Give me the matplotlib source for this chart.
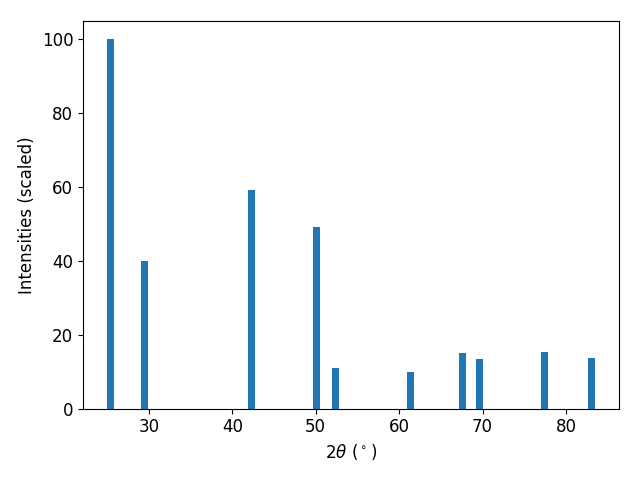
import matplotlib
matplotlib.use("Agg")
import matplotlib.pyplot as plt

two_theta = [25.45, 29.5, 42.3, 50.1, 52.4, 61.4, 67.6, 69.6, 77.4, 83.0]
intensity = [100.0, 39.9, 59.1, 49.3, 11.0, 9.9, 15.1, 13.3, 15.4, 13.8]

fig, ax = plt.subplots(figsize=(6.4, 4.8), dpi=100)
ax.bar(two_theta, intensity, width=0.85, color="#1f77b4")
ax.set_xlabel(r"$2\theta$ ($^\circ$)", fontsize=12)
ax.set_ylabel("Intensities (scaled)", fontsize=12)
ax.tick_params(labelsize=12)
fig.subplots_adjust(left=83/640, right=619/640, top=1-21/480, bottom=1-408.5/480)
fig.savefig("out.png")
